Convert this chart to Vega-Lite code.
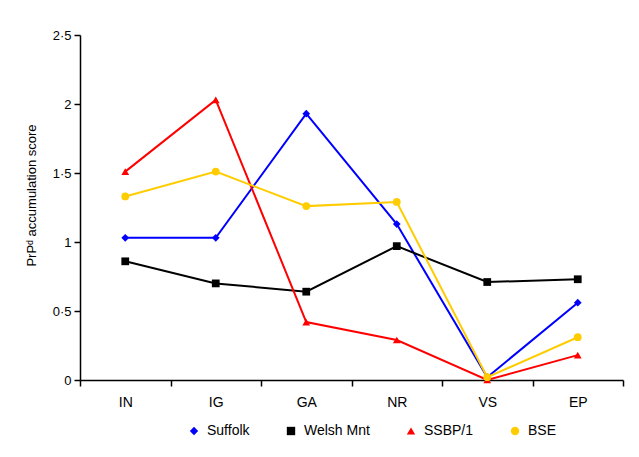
{
  "$schema": "https://vega.github.io/schema/vega-lite/v6.json",
  "width": 543,
  "height": 345,
  "autosize": "none",
  "padding": {"left": 80, "top": 35, "right": 16, "bottom": 77},
  "background": "white",
  "config": {
    "font": "Liberation Sans",
    "view": {"stroke": null},
    "axis": {"domainColor": "#000", "domainWidth": 1.5, "tickColor": "#000", "tickWidth": 1.5, "labelColor": "#000", "titleColor": "#000", "labelFont": "Liberation Sans", "titleFont": "Liberation Sans", "grid": false}
  },
  "data": {"values": [
    {"cat": "IN", "series": "Suffolk", "value": 1.03},
    {"cat": "IG", "series": "Suffolk", "value": 1.03},
    {"cat": "GA", "series": "Suffolk", "value": 1.93},
    {"cat": "NR", "series": "Suffolk", "value": 1.13},
    {"cat": "VS", "series": "Suffolk", "value": 0.02},
    {"cat": "EP", "series": "Suffolk", "value": 0.56},
    {"cat": "IN", "series": "Welsh Mnt", "value": 0.86},
    {"cat": "IG", "series": "Welsh Mnt", "value": 0.70},
    {"cat": "GA", "series": "Welsh Mnt", "value": 0.64},
    {"cat": "NR", "series": "Welsh Mnt", "value": 0.97},
    {"cat": "VS", "series": "Welsh Mnt", "value": 0.71},
    {"cat": "EP", "series": "Welsh Mnt", "value": 0.73},
    {"cat": "IN", "series": "SSBP/1", "value": 1.51},
    {"cat": "IG", "series": "SSBP/1", "value": 2.03},
    {"cat": "GA", "series": "SSBP/1", "value": 0.42},
    {"cat": "NR", "series": "SSBP/1", "value": 0.29},
    {"cat": "VS", "series": "SSBP/1", "value": 0.0},
    {"cat": "EP", "series": "SSBP/1", "value": 0.18},
    {"cat": "IN", "series": "BSE", "value": 1.33},
    {"cat": "IG", "series": "BSE", "value": 1.51},
    {"cat": "GA", "series": "BSE", "value": 1.26},
    {"cat": "NR", "series": "BSE", "value": 1.29},
    {"cat": "VS", "series": "BSE", "value": 0.02},
    {"cat": "EP", "series": "BSE", "value": 0.31}
  ]},
  "encoding": {
    "x": {"field": "cat", "type": "nominal", "sort": ["IN", "IG", "GA", "NR", "VS", "EP"],
      "scale": {"paddingInner": 0, "paddingOuter": 0},
      "axis": {"title": null, "labelAngle": 0, "labelFontSize": 14, "tickBand": "extent", "tickSize": 6, "labelPadding": 9}},
    "y": {"field": "value", "type": "quantitative",
      "scale": {"domain": [0, 2.5], "nice": false},
      "axis": {"values": [0, 0.5, 1, 1.5, 2, 2.5], "labelExpr": "replace(toString(datum.value), '.', '·')", "labelFontSize": 13, "tickSize": 6, "labelPadding": 3, "title": "PrPᵈ accumulation score", "titleFontSize": 13, "titleFontWeight": "normal", "titleX": -42, "titleY": 160}},
    "color": {"field": "series", "type": "nominal",
      "scale": {"domain": ["Suffolk", "Welsh Mnt", "SSBP/1", "BSE"], "range": ["#0000ff", "#000000", "#ff0000", "#ffcc00"]},
      "legend": {"title": null, "orient": "none", "direction": "horizontal", "legendX": 107, "legendY": 389, "labelFontSize": 14, "symbolSize": 70, "columnPadding": 34, "labelOffset": 6, "symbolStrokeWidth": 0}},
    "shape": {"field": "series", "type": "nominal",
      "scale": {"domain": ["Suffolk", "Welsh Mnt", "SSBP/1", "BSE"], "range": ["diamond", "square", "triangle-up", "circle"]}}
  },
  "layer": [
    {"mark": {"type": "line", "strokeWidth": 2}, "encoding": {"shape": null}},
    {"mark": {"type": "point", "filled": true, "size": 60, "opacity": 1}}
  ]
}
